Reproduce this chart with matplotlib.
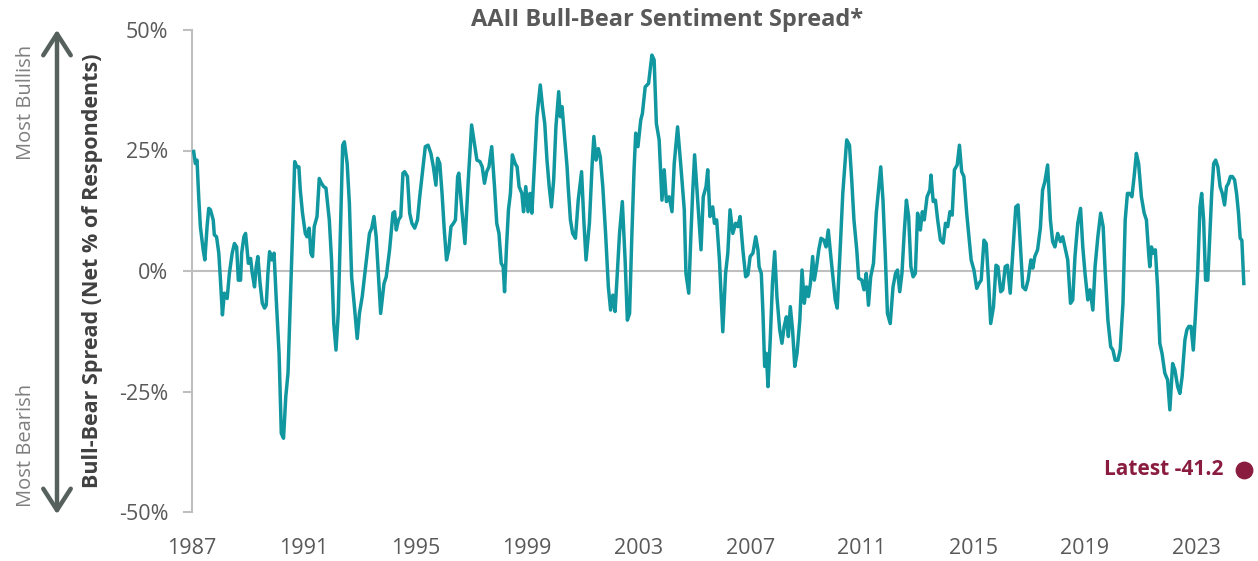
import numpy as np
import matplotlib
matplotlib.use("Agg")
import matplotlib.pyplot as plt

plt.rcParams['font.family'] = ['Open Sans', 'DejaVu Sans']

# readings of the smoothed bull-bear spread, (decimal year, % net bullish)
seg_1987_1993 = [
    (1987.06, 24.8), (1987.12, 22.3), (1987.18, 23.0), (1987.24, 15.4), (1987.30, 9.2),
    (1987.40, 4.4), (1987.46, 2.3), (1987.54, 9.2), (1987.60, 13.0), (1987.66, 12.7),
    (1987.76, 10.6), (1987.80, 7.5), (1987.88, 7.1), (1987.96, 3.7), (1988.02, -1.9),
    (1988.09, -9.1), (1988.16, -4.6), (1988.26, -5.7), (1988.34, -0.5), (1988.44, 3.7),
    (1988.52, 5.7), (1988.60, 5.0), (1988.66, -1.9), (1988.74, -1.9), (1988.78, 3.7),
    (1988.86, 7.1), (1988.92, 7.8), (1989.02, 1.6), (1989.10, 2.6), (1989.16, -0.5),
    (1989.24, -3.3), (1989.30, 0.9), (1989.36, 3.0), (1989.44, -2.6), (1989.52, -6.7),
    (1989.60, -7.7), (1989.66, -7.1), (1989.72, -0.5), (1989.78, 4.0), (1989.86, 2.3),
    (1989.94, 3.7), (1990.02, -6.0), (1990.12, -17.1), (1990.20, -33.7), (1990.28, -34.7),
    (1990.36, -26.1), (1990.44, -21.2), (1990.54, -3.3), (1990.61, 9.2), (1990.68, 22.7),
    (1990.76, 21.6), (1990.83, 21.6), (1990.88, 16.8), (1990.96, 12.0), (1991.06, 7.8),
    (1991.12, 7.1), (1991.20, 8.9), (1991.26, 3.7), (1991.32, 3.0), (1991.38, 9.2),
    (1991.48, 11.3), (1991.56, 19.2), (1991.64, 18.2), (1991.72, 17.5), (1991.80, 17.2),
    (1991.92, 10.6), (1992.00, 2.3), (1992.08, -10.9), (1992.16, -16.4), (1992.24, -8.8),
    (1992.34, 13.3), (1992.40, 26.1), (1992.46, 26.8), (1992.56, 22.3), (1992.64, 14.0),
    (1992.72, -1.2), (1992.82, -7.4), (1992.92, -14.0), (1993.00, -8.8), (1993.10, -5.3),
    (1993.18, -1.2), (1993.28, 3.7), (1993.36, 7.8), (1993.44, 8.9), (1993.52, 11.3),
    (1993.60, 7.1),
]
seg_1993_2000 = [
    (1993.76, -8.8), (1993.88, -2.6), (1993.96, -1.2), (1994.08, 4.4), (1994.20, 12.0),
    (1994.26, 12.3), (1994.32, 8.5), (1994.40, 10.6), (1994.48, 11.3), (1994.56, 20.3),
    (1994.62, 20.6), (1994.72, 19.6), (1994.80, 12.0), (1994.88, 9.9), (1994.98, 8.9),
    (1995.08, 10.6), (1995.16, 15.4), (1995.28, 21.6), (1995.36, 25.8), (1995.46, 26.1),
    (1995.56, 24.4), (1995.65, 21.6), (1995.74, 17.8), (1995.80, 23.4), (1995.88, 22.3),
    (1995.96, 16.1), (1996.04, 8.5), (1996.12, 2.3), (1996.20, 4.4), (1996.28, 9.2),
    (1996.37, 9.9), (1996.44, 10.6), (1996.52, 19.6), (1996.56, 20.3), (1996.68, 12.0),
    (1996.78, 5.7), (1996.90, 18.9), (1997.02, 30.3), (1997.12, 26.5), (1997.21, 23.0),
    (1997.32, 22.7), (1997.40, 21.6), (1997.48, 18.2), (1997.56, 20.6), (1997.64, 21.6),
    (1997.74, 25.8), (1997.84, 17.5), (1997.92, 9.9), (1998.00, 7.8), (1998.08, 1.6),
    (1998.15, 0.9), (1998.20, -4.3), (1998.27, 5.0), (1998.34, 12.7), (1998.41, 16.1),
    (1998.48, 24.1), (1998.58, 22.3), (1998.65, 21.6), (1998.72, 17.5), (1998.82, 16.1),
    (1998.88, 12.3), (1998.96, 17.5), (1999.04, 12.3), (1999.11, 16.1), (1999.18, 12.0),
    (1999.28, 23.0), (1999.36, 32.0), (1999.48, 38.6), (1999.56, 34.1), (1999.64, 30.6),
    (1999.72, 23.0), (1999.80, 17.5), (1999.88, 13.3), (1999.96, 18.9), (2000.04, 29.9),
    (2000.14, 37.2), (2000.20, 32.0), (2000.26, 34.1), (2000.36, 27.2), (2000.44, 21.6),
]
seg_2000_2007 = [
    (2000.48, 17.5), (2000.56, 10.6), (2000.64, 7.8), (2000.74, 6.8), (2000.84, 14.7),
    (2000.96, 20.6), (2001.04, 10.6), (2001.12, 2.3), (2001.24, 9.9), (2001.34, 22.3),
    (2001.40, 27.9), (2001.48, 23.0), (2001.56, 25.4), (2001.63, 23.7), (2001.72, 17.5),
    (2001.82, 7.8), (2001.92, -3.3), (2002.00, -8.1), (2002.08, -5.0), (2002.16, -8.4),
    (2002.24, -0.5), (2002.32, 7.8), (2002.42, 14.4), (2002.52, 2.3), (2002.60, -10.2),
    (2002.68, -8.8), (2002.76, 7.1), (2002.84, 21.0), (2002.90, 28.6), (2002.98, 25.8),
    (2003.08, 31.3), (2003.14, 32.7), (2003.24, 38.2), (2003.36, 38.9), (2003.48, 44.8),
    (2003.56, 43.8), (2003.64, 30.6), (2003.74, 27.2), (2003.84, 14.7), (2003.92, 21.0),
    (2004.00, 14.4), (2004.10, 15.4), (2004.20, 12.3), (2004.28, 22.3), (2004.40, 29.9),
    (2004.52, 21.6), (2004.64, 12.7), (2004.70, -0.5), (2004.80, -4.6), (2004.88, 7.8),
    (2004.94, 16.1), (2005.01, 24.1), (2005.12, 14.7), (2005.24, 4.4), (2005.32, 15.4),
    (2005.42, 17.5), (2005.48, 21.0), (2005.56, 11.3), (2005.66, 13.3), (2005.72, 9.9),
    (2005.80, 10.6), (2005.90, 2.3), (2006.02, -12.6), (2006.12, -0.5), (2006.20, 3.7),
    (2006.28, 12.7), (2006.38, 7.8), (2006.48, 9.9), (2006.56, 9.2), (2006.64, 11.3),
    (2006.74, 4.4), (2006.84, -1.2), (2006.92, -0.8), (2007.00, 3.0), (2007.10, 3.7),
    (2007.20, 7.1), (2007.28, 4.4),
]
seg_2007_2014 = [
    (2007.32, 0.9), (2007.40, -0.5), (2007.46, -8.8), (2007.52, -19.8), (2007.58, -17.1),
    (2007.64, -24.0), (2007.72, -14.3), (2007.80, -2.6), (2007.88, 4.0), (2007.96, -5.3),
    (2008.06, -12.2), (2008.14, -15.0), (2008.22, -11.5), (2008.30, -9.5), (2008.37, -13.6),
    (2008.44, -7.4), (2008.52, -12.2), (2008.60, -19.8), (2008.68, -17.1), (2008.78, -10.2),
    (2008.86, 0.2), (2008.94, -6.7), (2009.02, -3.3), (2009.09, -5.3), (2009.16, -2.6),
    (2009.24, 3.0), (2009.30, -1.9), (2009.38, 0.9), (2009.46, 4.4), (2009.54, 6.8),
    (2009.64, 6.4), (2009.72, 5.0), (2009.80, 8.5), (2009.88, 3.7), (2009.98, -1.9),
    (2010.05, -6.0), (2010.12, -7.7), (2010.22, 3.7), (2010.32, 16.1), (2010.40, 22.3),
    (2010.46, 27.2), (2010.56, 26.1), (2010.64, 18.9), (2010.72, 10.6), (2010.82, 4.4),
    (2010.89, -1.5), (2011.00, -1.9), (2011.08, -3.9), (2011.16, -0.5), (2011.24, -7.1),
    (2011.32, -1.2), (2011.42, 1.6), (2011.52, 12.0), (2011.60, 16.8), (2011.68, 21.6),
    (2011.76, 14.7), (2011.84, 3.7), (2011.92, -8.8), (2012.02, -10.9), (2012.12, -3.3),
    (2012.21, -0.5), (2012.28, 0.2), (2012.36, -4.3), (2012.44, -0.5), (2012.52, 7.8),
    (2012.60, 14.7), (2012.68, 11.3), (2012.76, 0.9), (2012.84, -1.2), (2012.92, -0.5),
    (2013.00, 12.0), (2013.10, 8.5), (2013.17, 12.3), (2013.24, 10.6), (2013.34, 15.4),
    (2013.44, 16.8), (2013.48, 19.9), (2013.56, 14.4), (2013.64, 14.7), (2013.72, 10.6),
    (2013.82, 6.4), (2013.92, 5.8), (2014.00, 9.9), (2014.08, 9.2),
]
seg_2014_2021 = [
    (2014.16, 12.3), (2014.24, 11.6), (2014.32, 21.0), (2014.42, 22.0), (2014.50, 26.1),
    (2014.58, 20.6), (2014.66, 19.6), (2014.76, 12.0), (2014.84, 7.1), (2014.92, 2.3),
    (2015.02, 0.2), (2015.12, -3.6), (2015.20, -2.6), (2015.28, -1.9), (2015.38, 6.4),
    (2015.46, 5.7), (2015.54, -1.9), (2015.62, -10.9), (2015.72, -7.4), (2015.81, 1.2),
    (2015.88, 0.9), (2015.98, -4.3), (2016.05, -3.9), (2016.14, 0.9), (2016.22, 1.2),
    (2016.32, -4.6), (2016.41, 3.7), (2016.52, 13.3), (2016.60, 13.7), (2016.70, 3.7),
    (2016.77, -3.3), (2016.87, -3.9), (2016.96, -1.9), (2017.06, 2.3), (2017.13, 0.6),
    (2017.20, 3.0), (2017.30, 4.4), (2017.40, 8.9), (2017.48, 16.8), (2017.56, 18.5),
    (2017.66, 22.0), (2017.76, 10.6), (2017.84, 6.1), (2017.92, 5.0), (2018.02, 7.8),
    (2018.12, 6.1), (2018.20, 7.1), (2018.28, 5.0), (2018.38, 2.3), (2018.48, -6.7),
    (2018.56, -6.0), (2018.64, 3.0), (2018.74, 9.9), (2018.84, 13.0), (2018.92, 5.0),
    (2019.00, -0.5), (2019.10, -6.0), (2019.18, -3.9), (2019.28, -8.1), (2019.36, 0.9),
    (2019.46, 7.1), (2019.56, 12.0), (2019.65, 9.2), (2019.72, 0.2), (2019.82, -10.2),
    (2019.92, -15.7), (2020.00, -16.4), (2020.08, -18.5), (2020.18, -18.5), (2020.26, -16.4),
    (2020.36, -6.7), (2020.44, 10.6), (2020.52, 16.1), (2020.60, 16.1), (2020.68, 15.4),
    (2020.76, 19.6), (2020.84, 24.4), (2020.92, 22.3),
]
seg_2021_2024 = [
    (2021.02, 15.4), (2021.12, 12.0), (2021.20, 10.6), (2021.28, 3.7), (2021.32, 0.9),
    (2021.38, 5.0), (2021.45, 3.7), (2021.52, 4.4), (2021.60, -3.3), (2021.68, -15.0),
    (2021.76, -17.1), (2021.86, -21.2), (2021.96, -22.6), (2022.04, -28.8), (2022.14, -19.2),
    (2022.22, -20.5), (2022.32, -24.0), (2022.40, -25.4), (2022.48, -21.9), (2022.58, -14.3),
    (2022.65, -12.2), (2022.72, -11.5), (2022.80, -11.5), (2022.88, -16.4), (2022.96, -8.8),
    (2023.04, 0.2), (2023.12, 13.3), (2023.18, 16.1), (2023.25, 10.6), (2023.32, -1.9),
    (2023.40, -1.9), (2023.47, 7.1), (2023.54, 16.1), (2023.61, 22.3), (2023.68, 23.0),
    (2023.76, 21.6), (2023.84, 17.5), (2023.92, 16.1), (2024.00, 13.7), (2024.07, 17.5),
    (2024.14, 18.2), (2024.21, 19.6), (2024.28, 19.6), (2024.36, 18.9), (2024.43, 16.1),
    (2024.50, 12.0), (2024.56, 6.8), (2024.62, 6.4), (2024.69, -2.6),
]

latest_date = 2024.69
latest_value = -41.2

year_ticks = list(range(1987, 2024, 4))
pct_ticks = [-50, -25, 0, 25, 50]

dates, spread = np.array(seg_1987_1993 + seg_1993_2000 + seg_2000_2007
                         + seg_2007_2014 + seg_2014_2021 + seg_2021_2024).T

teal = '#11979F'
grey_txt = '#595959'
axis_grey = '#BFBFBF'
maroon = '#8A1C40'

W, H = 1258, 561
fig = plt.figure(figsize=(W / 100, H / 100), dpi=100)
ax = fig.add_axes([192 / W, 1 - 512 / H, (1250 - 192) / W, (512 - 30) / H])

ax.axhline(0, color=axis_grey, lw=1.5, zorder=1)
ax.plot(dates, spread, color=teal, lw=2.5, zorder=3, solid_joinstyle='round')
ax.scatter([latest_date], [latest_value], s=140, color=maroon, zorder=4, clip_on=False)
ax.annotate(f'Latest {latest_value:.1f}', (latest_date, latest_value),
            xytext=(-15, 0), textcoords='offset points', color=maroon,
            fontsize=15, fontweight='bold', ha='right', va='center')

# 1987 sits on the axis line, ~27.9 px per year
px_per_year = 27.92
ax.set_xlim(1987 + 0.5 / px_per_year, 1987 + 1058.5 / px_per_year)
ax.set_ylim(-50, 50)
ax.set_xticks(year_ticks)
ax.set_xticklabels([str(y) for y in year_ticks])
ax.set_yticks(pct_ticks)
ax.set_yticklabels([f'{v}%' for v in pct_ticks])

for side in ['top', 'right', 'bottom']:
    ax.spines[side].set_visible(False)
ax.spines['left'].set_color(axis_grey)
ax.spines['left'].set_linewidth(1.5)
ax.tick_params(axis='y', length=6.5, width=1.5, color=axis_grey, labelcolor=grey_txt,
               labelsize=15.5, pad=10.5)
ax.tick_params(axis='x', length=0, labelcolor=grey_txt, labelsize=15.5, pad=19)

fig.text(667.5 / W, 1 - 20 / H, 'AAII Bull-Bear Sentiment Spread*', ha='center',
         va='center', fontsize=17, fontweight='bold', color=grey_txt)

fig.text(93 / W, 1 - 271 / H, 'Bull-Bear Spread (Net % of Respondents)', rotation=90,
         ha='center', va='center', fontsize=15.5, fontweight='bold', color='#404040')
fig.text(26 / W, 1 - 102 / H, 'Most Bullish', rotation=90, ha='center', va='center',
         fontsize=14.5, color='#7F7F7F')
fig.text(26 / W, 1 - 445 / H, 'Most Bearish', rotation=90, ha='center', va='center',
         fontsize=14.5, color='#7F7F7F')
fig.add_artist(matplotlib.patches.FancyArrowPatch(
    (57 / W, 1 - 517 / H), (57 / W, 1 - 27 / H), transform=fig.transFigure,
    arrowstyle='<->,head_length=0.7,head_width=0.45', mutation_scale=22,
    color='#56605C', lw=3.2))

fig.savefig('out.png', dpi=100)
